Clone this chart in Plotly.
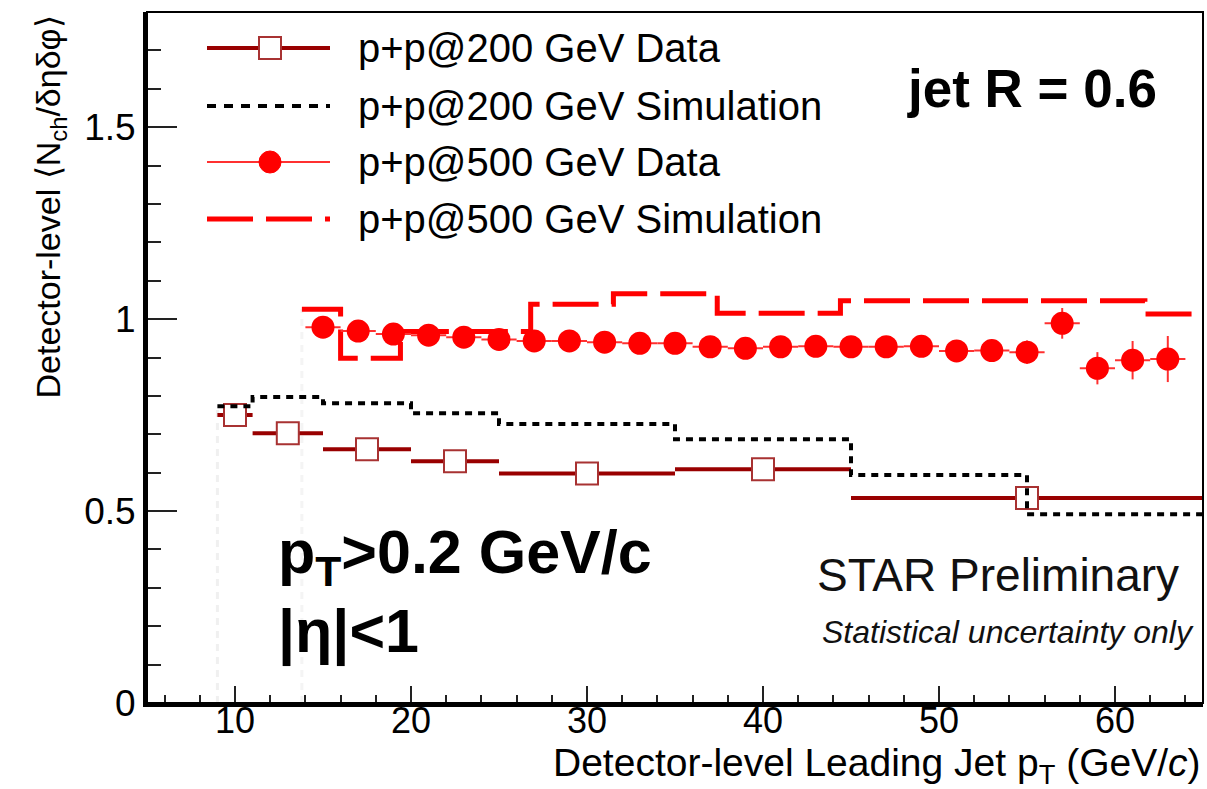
import plotly.graph_objects as go

# ---------------- data ----------------
# p+p@200 GeV Data (bin centres, half widths, values, stat errors)
pp200_x = [10, 13, 17.5, 22.5, 30, 40, 55]
pp200_xerr = [1, 2, 2.5, 2.5, 5, 5, 10]
pp200_y = [0.750, 0.703, 0.661, 0.630, 0.598, 0.609, 0.534]
pp200_yerr = [0.004, 0.004, 0.004, 0.005, 0.006, 0.008, 0.012]

# p+p@200 GeV Simulation (histogram bin edges and contents)
sim200_edges = [9, 11, 15, 20, 25, 35, 45, 55, 65]
sim200_vals = [0.773, 0.797, 0.781, 0.755, 0.727, 0.687, 0.594, 0.492]

# p+p@500 GeV Data
pp500_x = [15, 17, 19, 21, 23, 25, 27, 29, 31, 33, 35, 37, 39, 41, 43, 45,
           47, 49, 51, 53, 55, 57, 59, 61, 63]
pp500_xerr = [1] * 25
pp500_y = [0.979, 0.969, 0.961, 0.958, 0.953, 0.947, 0.943, 0.943, 0.940,
           0.937, 0.937, 0.928, 0.924, 0.928, 0.929, 0.928, 0.928, 0.929,
           0.917, 0.918, 0.914, 0.989, 0.872, 0.893, 0.896]
pp500_yerr = [0.005, 0.005, 0.005, 0.005, 0.006, 0.006, 0.006, 0.007, 0.007,
              0.008, 0.008, 0.009, 0.009, 0.010, 0.010, 0.011, 0.012, 0.013,
              0.015, 0.018, 0.030, 0.040, 0.042, 0.050, 0.060]

# p+p@500 GeV Simulation (histogram bin edges and contents)
sim500_edges = [13.8, 16, 19.4, 26.8, 31.5, 37.4, 44.4, 61.7, 65]
sim500_vals = [1.026, 0.898, 0.968, 1.039, 1.066, 1.015, 1.048, 1.013]

legend_labels = ["p+p@200 GeV Data", "p+p@200 GeV Simulation",
                 "p+p@500 GeV Data", "p+p@500 GeV Simulation"]

x_ticks = [10, 20, 30, 40, 50, 60]
y_ticks = [0, 0.5, 1, 1.5]
y_ticklabels = ["0", "0.5", "1", "1.5"]

# ---------------- styling ----------------
FONT = "Liberation Sans, Arial, Helvetica, sans-serif"
DARKRED = "#990000"
SQ_EDGE = "#a83232"
RED = "#ff0000"
RED_LINE = "#ff3030"
DOT = "7px,6px"
LONGDASH = "46px,13px"

# plot area pixel geometry (for paper-coordinate helpers)
W, H = 1207, 789
L, R, T, B = 147, 4, 12, 86
PW, PH = W - L - R, H - T - B


def px(xp):
    return (xp - L) / PW


def py(yp):
    return (H - B - yp) / PH


fig = go.Figure()

# faint starting edges of the simulation histograms
fig.add_trace(go.Scatter(x=[sim200_edges[0], sim200_edges[0]], y=[0, sim200_vals[0]],
                         mode="lines", line=dict(color="#f0f0f0", width=3, dash=DOT),
                         hoverinfo="skip", showlegend=False))
fig.add_trace(go.Scatter(x=[sim500_edges[0], sim500_edges[0]], y=[0, sim500_vals[0]],
                         mode="lines", line=dict(color="#f4f4f4", width=3, dash=DOT),
                         hoverinfo="skip", showlegend=False))

# 200 GeV data
fig.add_trace(go.Scatter(
    x=pp200_x, y=pp200_y, mode="markers", name=legend_labels[0], showlegend=False,
    marker=dict(symbol="square", size=22, color="white", line=dict(color=SQ_EDGE, width=2)),
    error_x=dict(type="data", array=pp200_xerr, color=DARKRED, thickness=4, width=0),
    error_y=dict(type="data", array=pp200_yerr, color=DARKRED, thickness=2, width=0),
))

# 200 GeV simulation (step histogram)
fig.add_trace(go.Scatter(
    x=sim200_edges, y=sim200_vals + [sim200_vals[-1]], mode="lines", line_shape="hv",
    name=legend_labels[1], showlegend=False,
    line=dict(color="black", width=4, dash=DOT),
))

# 500 GeV simulation (step histogram)
fig.add_trace(go.Scatter(
    x=sim500_edges, y=sim500_vals + [sim500_vals[-1]], mode="lines", line_shape="hv",
    name=legend_labels[3], showlegend=False,
    line=dict(color=RED, width=5, dash=LONGDASH),
))

# 500 GeV data
fig.add_trace(go.Scatter(
    x=pp500_x, y=pp500_y, mode="markers", name=legend_labels[2], showlegend=False,
    marker=dict(symbol="circle", size=23, color=RED, line=dict(width=0)),
    error_x=dict(type="data", array=pp500_xerr, color=RED_LINE, thickness=2, width=0),
    error_y=dict(type="data", array=pp500_yerr, color=RED_LINE, thickness=2, width=0),
))

shapes = []
annotations = []

# frame (top / right thinner lines)
shapes.append(dict(type="rect", xref="paper", yref="paper", x0=0, x1=1, y0=0, y1=1,
                   line=dict(color="black", width=2), layer="above"))

# ---------------- custom legend ----------------
lx0, lx1, lxm = px(207), px(330), px(270)
ly = [py(48), py(106), py(162), py(219)]
hx, hy = 11 / PW, 11 / PH
# entry 1
shapes.append(dict(type="line", xref="paper", yref="paper", x0=lx0, x1=lx1, y0=ly[0], y1=ly[0],
                   line=dict(color=DARKRED, width=4)))
shapes.append(dict(type="rect", xref="paper", yref="paper", x0=lxm - hx, x1=lxm + hx,
                   y0=ly[0] - hy, y1=ly[0] + hy, fillcolor="white",
                   line=dict(color=SQ_EDGE, width=2)))
# entry 2
shapes.append(dict(type="line", xref="paper", yref="paper", x0=lx0, x1=lx1, y0=ly[1], y1=ly[1],
                   line=dict(color="black", width=4, dash="9px,8px")))
# entry 3
shapes.append(dict(type="line", xref="paper", yref="paper", x0=lx0, x1=lx1, y0=ly[2], y1=ly[2],
                   line=dict(color=RED_LINE, width=2)))
shapes.append(dict(type="circle", xref="paper", yref="paper", x0=lxm - hx, x1=lxm + hx,
                   y0=ly[2] - hy, y1=ly[2] + hy, fillcolor=RED, line=dict(color=RED, width=1)))
# entry 4
shapes.append(dict(type="line", xref="paper", yref="paper", x0=lx0, x1=lx1, y0=ly[3], y1=ly[3],
                   line=dict(color=RED, width=5, dash=LONGDASH)))

for lab, yy in zip(legend_labels, ly):
    annotations.append(dict(text=lab, xref="paper", yref="paper", x=px(356), y=yy,
                            xanchor="left", yanchor="middle", showarrow=False,
                            font=dict(family=FONT, size=40, color="black")))

# ---------------- texts ----------------
annotations.append(dict(text="<b>jet R = 0.6</b>", xref="paper", yref="paper",
                        x=px(1159), y=py(88), xanchor="right", yanchor="middle",
                        showarrow=False, font=dict(family=FONT, size=53, color="black")))
annotations.append(dict(text="<b>p<sub>T</sub>>0.2 GeV/c</b>", xref="paper", yref="paper",
                        x=px(276), y=py(556), xanchor="left", yanchor="middle",
                        showarrow=False, font=dict(family=FONT, size=61, color="black")))
annotations.append(dict(text="<b>|η|<1</b>", xref="paper", yref="paper",
                        x=px(276), y=py(632), xanchor="left", yanchor="middle",
                        showarrow=False, font=dict(family=FONT, size=61, color="black")))
annotations.append(dict(text="STAR Preliminary", xref="paper", yref="paper",
                        x=px(1181), y=py(575), xanchor="right", yanchor="middle",
                        showarrow=False, font=dict(family=FONT, size=46, color="#111111")))
annotations.append(dict(text="<i>Statistical uncertainty only</i>", xref="paper", yref="paper",
                        x=px(1196), y=py(632), xanchor="right", yanchor="middle",
                        showarrow=False, font=dict(family=FONT, size=32, color="#111111")))
# axis titles
annotations.append(dict(text="Detector-level Leading Jet p<sub>T</sub> (GeV/<i>c</i>)",
                        xref="paper", yref="paper", x=1.0, y=py(766),
                        xanchor="right", yanchor="middle", showarrow=False,
                        font=dict(family=FONT, size=39, color="black")))
annotations.append(dict(text="Detector-level ⟨N<sub>ch</sub>/δηδφ⟩",
                        xref="paper", yref="paper", x=px(50), y=py(14),
                        xanchor="center", yanchor="top", textangle=-90, showarrow=False,
                        font=dict(family=FONT, size=34, color="black")))

fig.update_layout(
    width=W, height=H,
    margin=dict(l=L, r=R, t=T, b=B),
    paper_bgcolor="white", plot_bgcolor="white",
    showlegend=False,
    shapes=shapes, annotations=annotations,
    font=dict(family=FONT, color="black"),
)

fig.update_xaxes(
    range=[5, 65], tickvals=x_ticks, ticks="inside", ticklen=17, tickwidth=2,
    tickcolor="#222222", showgrid=False, zeroline=False,
    showline=True, linewidth=4, linecolor="black",
    ticklabelstandoff=-17,
    tickfont=dict(family=FONT, size=36, color="black"),
    minor=dict(dtick=2, tick0=0, ticks="inside", ticklen=8, tickwidth=2,
               tickcolor="#222222", showgrid=False),
)
fig.update_yaxes(
    range=[0, 1.8], tickvals=y_ticks, ticktext=y_ticklabels, ticks="inside",
    ticklen=30, tickwidth=2, tickcolor="#222222", showgrid=False, zeroline=False,
    showline=True, linewidth=4, linecolor="black",
    tickfont=dict(family=FONT, size=37, color="black"),
    minor=dict(dtick=0.1, tick0=0, ticks="inside", ticklen=14, tickwidth=2,
               tickcolor="#222222", showgrid=False),
)

fig.write_html("out.html")
